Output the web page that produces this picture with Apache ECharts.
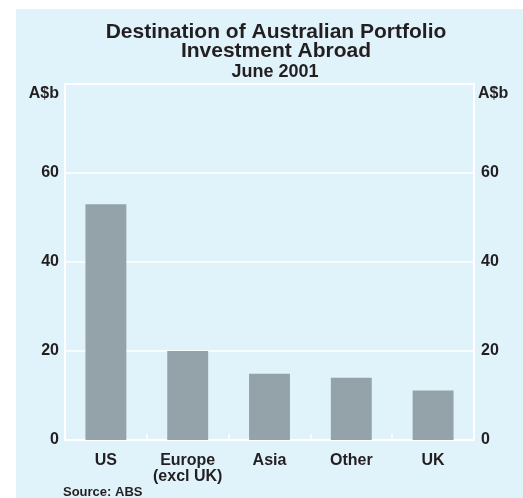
<!DOCTYPE html>
<html lang="en">
<head>
    <meta charset="UTF-8">
    <title>Destination of Australian Portfolio Investment Abroad</title>
    <style>
        html, body { margin: 0; padding: 0; background: #fff; }
    </style>
</head>
<body>
<div id="chart" style="width:523px;height:498px;"></div>
<script src="https://cdn.jsdelivr.net/npm/echarts@6/dist/echarts.min.js"></script>
<script>
    // data
    var categories = ['US', 'Europe\n(excl UK)', 'Asia', 'Other', 'UK'];
    var values = [53, 20, 14.9, 14, 11.1];
    var yTicks = [0, 20, 40, 60, 80];

    var font = 'Liberation Sans, Arial, Helvetica, sans-serif';
    var txt = '#231f20';

    var myChart = echarts.init(document.getElementById('chart'));

    function tickLabel(v) {
        return v === yTicks[yTicks.length - 1] ? '' : String(v);
    }

    var yAxisBase = {
        type: 'value',
        min: yTicks[0],
        max: yTicks[yTicks.length - 1],
        interval: 20,
        axisLine: { show: true, lineStyle: { color: '#fff', width: 2 } },
        axisTick: { show: false },
        splitLine: { show: true, lineStyle: { color: '#fff', width: 1.5 } },
        axisLabel: {
            formatter: tickLabel,
            color: txt, fontFamily: font, fontWeight: 'bold', fontSize: 16, margin: 6
        }
    };

    var option = {
        animation: false,
        backgroundColor: '#fff',
        graphic: [
            {
                type: 'rect', z: -10,
                shape: { x: 16, y: 9, width: 507, height: 489 },
                style: { fill: '#e0f2fa' }
            },
            {
                type: 'text', x: 59, y: 93.5,
                style: { text: 'A$b', fill: txt, font: 'bold 16px ' + font, align: 'right', verticalAlign: 'middle' }
            },
            {
                type: 'text', x: 478, y: 93.5,
                style: { text: 'A$b', fill: txt, font: 'bold 16px ' + font, align: 'left', verticalAlign: 'middle' }
            },
            {
                type: 'text', x: 63, y: 492.5,
                style: { text: 'Source: ABS', fill: txt, font: 'bold 13px ' + font, align: 'left', verticalAlign: 'middle' }
            }
        ],
        title: [
            {
                text: 'Destination of Australian Portfolio\nInvestment Abroad',
                left: 271, top: 18,
                textAlign: 'center',
                textStyle: { color: txt, fontFamily: font, fontWeight: 'bold', fontSize: 21, lineHeight: 19 }
            },
            {
                text: 'June 2001',
                left: 270, top: 57.5,
                textAlign: 'center',
                textStyle: { color: txt, fontFamily: font, fontWeight: 'bold', fontSize: 18, lineHeight: 20 }
            }
        ],
        grid: {
            left: 65, right: 49, top: 84, bottom: 58,
            show: true, backgroundColor: 'transparent', borderColor: '#fff', borderWidth: 2
        },
        xAxis: {
            type: 'category',
            data: categories,
            axisLine: { show: true, lineStyle: { color: '#fff', width: 2 } },
            axisTick: { show: true, inside: true, length: 6, interval: 0, lineStyle: { color: '#fff', width: 1.5 } },
            axisLabel: {
                interval: 0,
                hideOverlap: false,
                color: txt, fontFamily: font, fontWeight: 'bold', fontSize: 16,
                lineHeight: 16, margin: 13
            }
        },
        yAxis: [
            echarts.util.merge({ position: 'left' }, yAxisBase, true),
            echarts.util.merge({ position: 'right', splitLine: { show: false }, axisLabel: { margin: 7 } }, yAxisBase)
        ],
        series: [
            {
                type: 'bar',
                data: values,
                barWidth: '50%',
                itemStyle: { color: '#93a3a9' }
            }
        ]
    };
    myChart.setOption(option);
</script>
</body>
</html>
